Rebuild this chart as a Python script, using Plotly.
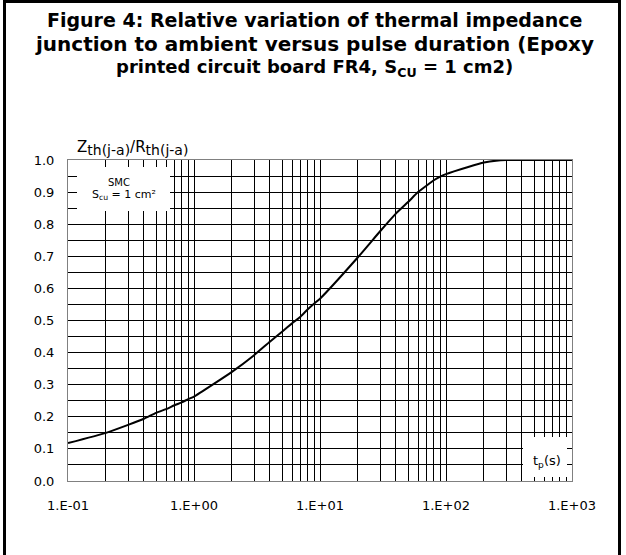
import plotly.graph_objects as go

# ---- data ----
pulse_s = [0.1, 0.2, 0.3, 0.4, 0.5, 0.6, 0.7, 0.8, 0.9, 1, 2, 3, 4, 5, 6, 7, 8, 9,
           10, 20, 30, 40, 50, 60, 70, 80, 90, 100, 150, 200, 250, 300, 500, 1000]
zth_ratio = [0.118, 0.150, 0.175, 0.194, 0.212, 0.224, 0.236, 0.245, 0.255, 0.263,
             0.340, 0.392, 0.434, 0.465, 0.491, 0.512, 0.535, 0.553,
             0.568, 0.697, 0.778, 0.833, 0.869, 0.900, 0.920, 0.937, 0.948, 0.956,
             0.978, 0.992, 0.998, 1.0, 1.0, 1.0]

x_tickvals = [0.1, 1, 10, 100, 1000]
x_ticktext = ["1.E-01", "1.E+00", "1.E+01", "1.E+02", "1.E+03"]
y_tickvals = [0.0, 0.1, 0.2, 0.3, 0.4, 0.5, 0.6, 0.7, 0.8, 0.9, 1.0]
y_ticktext = ["0.0", "0.1", "0.2", "0.3", "0.4", "0.5", "0.6", "0.7", "0.8", "0.9", "1.0"]

title_lines = [
    "Figure 4: Relative variation of thermal impedance",
    "junction to ambient versus pulse duration (Epoxy",
    "printed circuit board FR4, S<sub>CU</sub> = 1 cm2)",
]
y_label = ("Z<sub><span style='font-size:14px'>th(j-a)</span></sub>/"
           "R<sub><span style='font-size:14px'>th(j-a)</span></sub>")
x_label = "t<sub>p</sub>(s)"
box_lines = ["SMC", "S<sub>cu</sub> = 1 cm²"]

# ---- layout geometry (pixels) ----
W, H = 626, 555
L, R, T, B = 68, 54, 160, 74
PW = W - L - R
PH = H - T - B
FONT = "DejaVu Sans"


def px(xp):
    return (xp - L) / PW


def py(yp):
    return (H - B - yp) / PH


fig = go.Figure()
fig.add_trace(go.Scatter(
    x=pulse_s, y=zth_ratio, mode="lines",
    line=dict(color="black", width=2, shape="spline", smoothing=0.5),
    hoverinfo="skip", showlegend=False,
))

grid_col = "#000000"
fig.update_xaxes(
    type="log", range=[-1, 3],
    tickvals=x_tickvals, ticktext=x_ticktext,
    showgrid=True, gridcolor=grid_col, gridwidth=1,
    minor=dict(dtick="D1", showgrid=True, gridcolor=grid_col, gridwidth=1),
    showline=True, linecolor="#808080", linewidth=1, mirror=True,
    ticks="", ticklabelstandoff=12,
    tickfont=dict(family=FONT, size=13, color="black"),
    zeroline=False,
)
fig.update_yaxes(
    range=[0, 1],
    tickvals=y_tickvals, ticktext=y_ticktext,
    showgrid=True, gridcolor=grid_col, gridwidth=1,
    minor=dict(dtick=0.05, showgrid=True, gridcolor=grid_col, gridwidth=1),
    showline=True, linecolor="#808080", linewidth=1, mirror=True,
    ticks="", ticklabelstandoff=10,
    tickfont=dict(family=FONT, size=13, color="black"),
    zeroline=False,
)

shapes = []
# outer frame
shapes.append(dict(type="rect", xref="paper", yref="paper",
                   x0=px(4.5), x1=px(619.5), y0=py(560), y1=py(1.5),
                   line=dict(color="black", width=3), fillcolor="rgba(0,0,0,0)",
                   layer="above"))
# white boxes inside plot
shapes.append(dict(type="rect", xref="paper", yref="paper",
                   x0=px(77), x1=px(170), y0=py(211), y1=py(167),
                   line=dict(width=0), fillcolor="white", layer="above"))
shapes.append(dict(type="rect", xref="paper", yref="paper",
                   x0=px(523), x1=px(567), y0=py(477), y1=py(437),
                   line=dict(width=0), fillcolor="white", layer="above"))

annotations = []
for line, yc, fs in zip(title_lines, [20, 44, 68], [19, 20, 18]):
    annotations.append(dict(text=line, xref="paper", yref="paper",
                            x=px(314), y=py(yc), xanchor="center", yanchor="middle",
                            showarrow=False,
                            font=dict(family=FONT, size=fs, color="black", weight="bold")))
annotations.append(dict(text=y_label, xref="paper", yref="paper",
                        x=px(75), y=py(148), xanchor="left", yanchor="middle",
                        showarrow=False, font=dict(family=FONT, size=15, color="black")))
annotations.append(dict(text=box_lines[0], xref="paper", yref="paper",
                        x=px(119), y=py(182), xanchor="center", yanchor="middle",
                        showarrow=False, font=dict(family=FONT, size=10, color="black")))
annotations.append(dict(text=box_lines[1], xref="paper", yref="paper",
                        x=px(124), y=py(195), xanchor="center", yanchor="middle",
                        showarrow=False, font=dict(family=FONT, size=11, color="black")))
annotations.append(dict(text=x_label, xref="paper", yref="paper",
                        x=px(547), y=py(461), xanchor="center", yanchor="middle",
                        showarrow=False, font=dict(family=FONT, size=13, color="black")))

fig.update_layout(
    width=W, height=H,
    margin=dict(l=L, r=R, t=T, b=B, autoexpand=False),
    paper_bgcolor="white", plot_bgcolor="white",
    shapes=shapes, annotations=annotations,
    showlegend=False,
    font=dict(family=FONT, color="black"),
)

fig.write_html(
    "out.html",
    config={"displayModeBar": False},
    post_script="document.body.style.margin='0';document.body.style.overflow='hidden';",
)
